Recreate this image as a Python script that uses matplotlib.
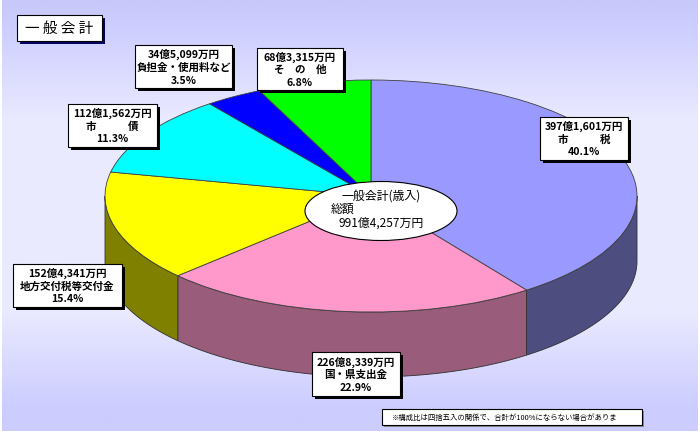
import numpy as np
import matplotlib.pyplot as plt
from matplotlib.patches import Rectangle, Ellipse, Polygon
from matplotlib.transforms import Affine2D
from matplotlib.colors import LinearSegmentedColormap

plt.rcParams['font.family'] = ['Noto Sans CJK JP', 'DejaVu Sans']

# =============== Data ===============
categories = ["市　　　税", "国・県支出金", "地方交付税等交付金",
              "市　　　債", "負担金・使用料など", "そ　の　他"]
amounts = [3971601, 2268339, 1524341, 1121562, 345099, 683315]   # 万円
shares = [40.1, 22.9, 15.4, 11.3, 3.5, 6.8]                        # %
title_text = "一 般 会 計"
center_lines = ["一般会計(歳入)", "総額"]
footnote = "※構成比は四捨五入の関係で、合計が100%にならない場合がありま"

# Colors (top face / side wall)
TOP_COLORS = ["#9999FF", "#FF99CC", "#FFFF00", "#00FFFF", "#0000FF", "#00FF00"]
SIDE_COLORS = ["#4D4D80", "#995C7A", "#808000", "#008080", "#000080", "#008000"]

# =============== Layout (pixel coords, y down) ===============
CX, CY = 371, 197     # pie centre
RX, RY = 266, 116     # ellipse radii of the top face
DEPTH = 65            # thickness of the pie
# label boxes: x0, y0, x1, y1
BOXES = [(540, 118, 628, 161), (312, 353, 400, 397), (13, 265, 122, 308),
         (68, 105, 157, 148), (135, 46, 232, 89), (257, 49, 343, 91)]
LABEL_SIZE = 7.6


def fmt_oku(v):
    return f"{v // 10000}億{v % 10000:,}万円"


def front_spans(t1, t2):
    """Parts of a wedge (degrees) that lie on the visible front half."""
    spans = []
    for lo, hi in [(-540, -360), (-180, 0), (180, 360)]:
        a, b = max(t1, lo), min(t2, hi)
        if b > a:
            spans.append((a, b))
    return spans


def boxed(ax, x0, y0, x1, y1, shadow="black", off=3, z=6):
    ax.add_patch(Rectangle((x0 + off, y0 + off), x1 - x0, y1 - y0,
                           facecolor=shadow, edgecolor="none", zorder=z))
    ax.add_patch(Rectangle((x0, y0), x1 - x0, y1 - y0, facecolor="white",
                           edgecolor="black", linewidth=0.8, zorder=z + 0.5))


fig = plt.figure(figsize=(7, 4.35), dpi=100)
ax = fig.add_axes([0, 0, 1, 1])

# background gradient
bg_cmap = LinearSegmentedColormap.from_list(
    "bg", [(0, "#C8C8FA"), (0.05, "#CCCCFF"), (0.28, "#EAEAFF"),
           (0.72, "#EAEAFF"), (0.95, "#CCCCFF"), (1, "#CCCCFF")])
ax.imshow(np.linspace(0, 1, 256).reshape(-1, 1), cmap=bg_cmap, aspect="auto",
          extent=(2, 698, 432, 1), zorder=0)

# pie top face
wedges, _ = ax.pie(amounts, colors=TOP_COLORS, startangle=90, counterclock=False,
                   radius=1, center=(0, 0),
                   wedgeprops=dict(linewidth=0.6, edgecolor="#404040"))
squash = Affine2D().scale(RX, -RY).translate(CX, CY) + ax.transData
for w in wedges:
    w.set_transform(squash)
    w.set_zorder(3)

# side walls
for w, sc in zip(wedges, SIDE_COLORS):
    for a, b in front_spans(w.theta1, w.theta2):
        t = np.radians(np.linspace(a, b, 120))
        xs = CX + RX * np.cos(t)
        ys = CY - RY * np.sin(t)
        pts = np.column_stack([np.r_[xs, xs[::-1]], np.r_[ys, ys[::-1] + DEPTH]])
        ax.add_patch(Polygon(pts, closed=True, facecolor=sc, edgecolor="#303030",
                             linewidth=0.6, zorder=2))

# centre ellipse
ax.add_patch(Ellipse((381, 212), 152, 59, facecolor="white", edgecolor="black",
                     linewidth=0.8, zorder=5))
ax.text(381, 196, center_lines[0], ha="center", va="center", fontsize=8.6, zorder=6)
ax.text(331, 209, center_lines[1], ha="left", va="center", fontsize=8.6, zorder=6)
ax.text(381, 223, fmt_oku(sum(amounts)), ha="center", va="center", fontsize=8.6, zorder=6)

# slice labels
for (x0, y0, x1, y1), cat, amt, pct in zip(BOXES, categories, amounts, shares):
    boxed(ax, x0, y0, x1, y1)
    xc, yc = (x0 + x1) / 2, (y0 + y1) / 2
    for dy, s in zip((-13, 0, 13), (fmt_oku(amt), cat, f"{pct:.1f}%")):
        ax.text(xc, yc + dy, s, ha="center", va="center", fontsize=LABEL_SIZE,
                fontweight="bold", zorder=7)

# title
boxed(ax, 17, 16, 102, 42, shadow="#000060", off=3)
ax.text(59.5, 29, title_text, ha="center", va="center", fontsize=10.5, zorder=7)

# footnote
boxed(ax, 382, 410, 642, 426, shadow="#888888", off=2)
ax.text(392, 418, footnote, ha="left", va="center", fontsize=5.3, zorder=7)

ax.set_xlim(0, 700)
ax.set_ylim(435, 0)
ax.set_aspect("auto")
ax.axis("off")
fig.patch.set_facecolor("white")
fig.savefig("out.png", dpi=100, facecolor="white")
